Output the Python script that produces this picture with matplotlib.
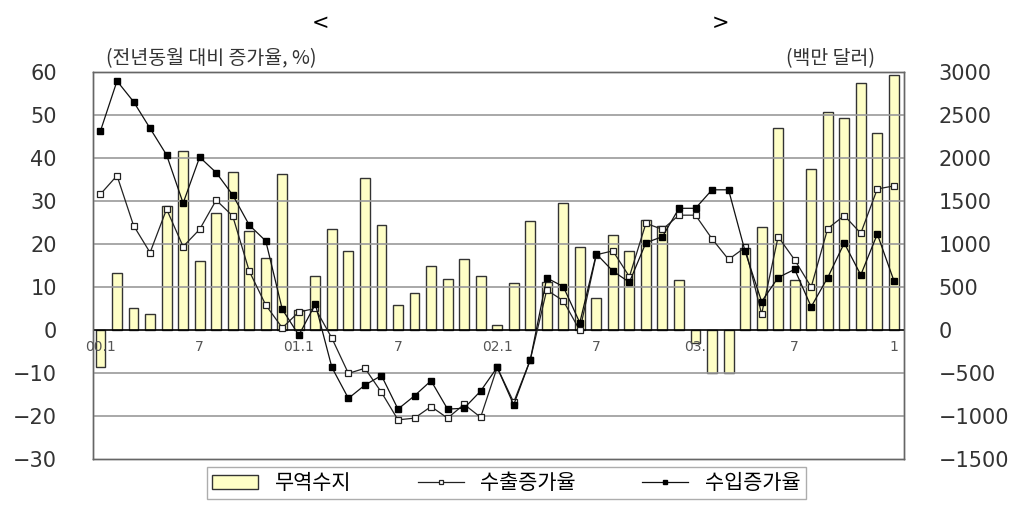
import matplotlib.pyplot as plt
import numpy as np

plt.rcParams['font.family'] = ['Noto Sans CJK KR', 'DejaVu Sans']

# months 2000.1 ~ 2004.1
month_labels = ['00.1', '7', '01.1', '7', '02.1', '7', '03.', '7', '1']
label_pos = [0, 6, 12, 18, 24, 30, 36, 42, 48]

# trade balance (million USD, right axis)
balance = [-430, 663, 256, 186, 1442, 2081, 802, 1360, 1837, 1151, 837, 1814,
           233, 628, 1174, 919, 1767, 1221, 291, 430, 744, 593, 826, 628,
           58, 547, 1267, 560, 1477, 965, 372, 1105, 919, 1279, 1209, 581,
           -151, -500, -500, 950, 1198, 2349, 581, 1872, 2535, 2465, 2872, 2291,
           2965]

# export growth (%, left axis)
exports = [31.6, 35.9, 24.3, 18.0, 28.1, 19.4, 23.4, 30.2, 26.5, 13.7, 5.8, 0.5,
           4.2, 5.0, -1.9, -10.1, -8.9, -14.5, -20.9, -20.5, -17.8, -20.5, -17.3, -20.3,
           -8.7, -16.8, -7.0, 9.3, 6.8, -0.1, 17.5, 18.4, 12.4, 24.8, 23.4, 26.7,
           26.7, 21.2, 16.4, 19.2, 3.7, 21.7, 16.3, 10.0, 23.6, 26.6, 22.5, 32.8,
           33.5]

# import growth (%, left axis)
imports = [46.3, 57.9, 53.1, 46.9, 40.7, 29.5, 40.2, 36.6, 31.4, 24.4, 20.7, 4.8,
           -1.2, 6.0, -8.7, -15.9, -12.8, -10.6, -18.4, -15.3, -11.8, -18.4, -18.2, -14.2,
           -8.7, -17.4, -7.0, 12.1, 10.1, 1.7, 17.7, 13.7, 11.1, 20.3, 21.7, 28.3,
           28.3, 32.6, 32.6, 18.3, 6.6, 12.2, 14.1, 5.4, 12.2, 20.2, 12.8, 22.3,
           11.5]

x = np.arange(len(balance))
num_font = 'DejaVu Sans'

fig = plt.figure(figsize=(10.27, 5.07), dpi=100)
ax = fig.add_axes([0.0906, 0.0947, 0.7894, 0.7633])
ax2 = ax.twinx()

# bars on the right axis, drawn behind the lines
ax2.bar(x, balance, width=0.6, color='#FFFFC6', edgecolor='#333333', linewidth=1.0,
        label='무역수지', zorder=1)
ax2.set_ylim(-1500, 3000)
ax2.set_yticks(np.arange(-1500, 3001, 500))

ax.set_zorder(ax2.get_zorder() + 1)
ax.patch.set_visible(False)

ax.plot(x, exports, color='#222222', lw=0.9, marker='s', ms=5, mfc='white',
        mec='#222222', mew=0.9, label='수출증가율', zorder=4)
ax.plot(x, imports, color='#111111', lw=0.9, marker='s', ms=5, mfc='black',
        mec='black', label='수입증가율', zorder=5)

ax.set_ylim(-30, 60)
ax.set_yticks(np.arange(-30, 61, 10))
ax.set_xlim(-0.45, 48.6)
ax.set_xticks([])

for v in range(-20, 61, 10):
    if v != 0:
        ax.axhline(v, color='#999999', lw=1.2, zorder=0)
ax.axhline(0, color='black', lw=1.2, zorder=2)

for a in (ax, ax2):
    for s in a.spines.values():
        s.set_color('#666666')
        s.set_linewidth(1.0)
    a.tick_params(length=0, labelsize=15, colors='#333333')

ax.set_yticklabels([f'{v}'.replace('-', '\u2212') for v in range(-30, 61, 10)],
                   family=num_font)
ax2.set_yticklabels([f'{v}'.replace('-', '\u2212') for v in range(-1500, 3001, 500)],
                    family=num_font)
ax.tick_params(pad=26)
ax2.tick_params(pad=25)

for p, lab in zip(label_pos, month_labels):
    ax.text(p, -2.3, lab, ha='center', va='top', fontsize=10, color='#555555',
            family=num_font)

fig.text(0.312, 0.955, '<', ha='center', va='center', fontsize=15, family='DejaVu Sans')
fig.text(0.702, 0.955, '>', ha='center', va='center', fontsize=15, family='DejaVu Sans')
fig.text(0.103, 0.885, '(전년동월 대비 증가율, %)', ha='left', va='center', fontsize=14,
         color='#333333')
fig.text(0.852, 0.885, '(백만 달러)', ha='right', va='center', fontsize=14,
         color='#333333')

h1, l1 = ax2.get_legend_handles_labels()
h2, l2 = ax.get_legend_handles_labels()
leg = fig.legend(h1 + h2, l1 + l2, loc='center', bbox_to_anchor=(0.493, 0.047), ncol=3,
                 fontsize=15, frameon=True, fancybox=False, edgecolor='#999999',
                 handlelength=2.2, handletextpad=0.8, columnspacing=3.2,
                 borderpad=0.25, markerscale=0.7)

fig.savefig('out.png', dpi=100)
